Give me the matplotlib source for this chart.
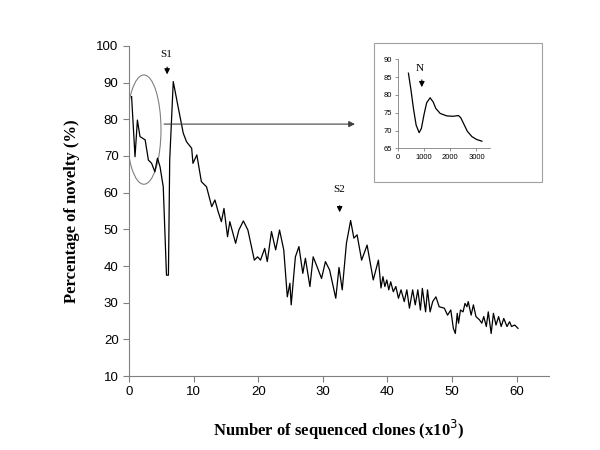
import matplotlib
matplotlib.use("Agg")
import matplotlib.pyplot as plt
from matplotlib.patches import Ellipse, Rectangle

# ---- main series (x in thousands of clones, y in %) ----
clones_k = [0.4, 0.93, 1.3, 1.7, 2.5, 3.0, 3.5, 4.0, 4.4, 4.8, 5.3, 5.8, 6.1, 6.3, 6.85,
            7.6, 8.4, 8.9, 9.7, 9.9, 10.5, 11.2, 12.0, 12.8, 13.3, 13.8, 14.3, 14.7, 15.25,
            15.6, 16.5, 17.0, 17.7, 18.4, 19.4, 19.9, 20.35, 21.0, 21.4, 22.05, 22.7, 23.3,
            23.95, 24.5, 24.9, 25.1, 25.75, 26.3, 26.9, 27.3, 28.0, 28.5, 29.0, 29.8, 30.4,
            31.05, 32.0, 32.5, 33.0, 33.65, 34.3, 34.8, 35.3, 36.0, 36.85, 37.8, 38.6, 39.0,
            39.3, 39.6, 39.9, 40.2, 40.5, 40.9, 41.3, 41.7, 42.1, 42.6, 43.0, 43.4, 43.9,
            44.3, 44.7, 45.1, 45.4, 45.9, 46.2, 46.6, 47.0, 47.5, 48.0, 48.8, 49.3, 49.8,
            50.2, 50.5, 50.8, 51.0, 51.3, 51.7, 52.0, 52.3, 52.5, 52.95, 53.3, 53.7, 54.25,
            54.6, 54.9, 55.3, 55.6, 56.05, 56.4, 56.8, 57.2, 57.6, 58.0, 58.5, 58.9, 59.2,
            59.7, 60.2]
novelty = [86.2, 69.8, 79.8, 75.3, 74.4, 68.9, 68.0, 65.7, 69.4, 67.1, 61.6, 37.5, 37.5, 68.9, 90.3,
           83.4, 76.2, 73.9, 72.1, 68.0, 70.3, 63.0, 61.6, 56.2, 58.0, 54.8, 52.1, 55.7, 48.0,
           52.1, 46.2, 49.8, 52.3, 49.8, 41.6, 42.5, 41.6, 44.8, 41.2, 49.4, 44.4, 49.8,
           44.4, 31.6, 35.3, 29.4, 42.5, 45.3, 38.0, 42.1, 34.4, 42.5, 40.3, 36.6, 41.2,
           38.9, 31.2, 39.6, 33.5, 46.2, 52.4, 47.6, 48.5, 41.6, 45.7, 36.2, 41.6, 34.0,
           37.1, 34.4, 36.2, 33.5, 35.7, 33.0, 34.4, 31.2, 33.5, 30.3, 33.5, 28.5, 33.5,
           29.4, 33.5, 28.0, 33.9, 27.5, 33.5, 27.5, 30.3, 31.6, 28.9, 28.5, 26.6, 28.0,
           23.0, 21.6, 27.1, 24.4, 28.0, 27.5, 29.8, 28.9, 30.3, 26.6, 29.4, 26.2, 25.3,
           24.4, 26.2, 23.5, 27.5, 21.6, 27.1, 23.9, 26.2, 23.5, 25.7, 23.5, 24.8, 23.5,
           23.9, 23.0]
assert len(clones_k) == len(novelty)

# ---- inset series (clones, %) ----
inset_clones = [405, 500, 600, 700, 813, 900, 1000, 1100, 1233, 1350, 1450, 1615, 1870,
                2100, 2313, 2400, 2505, 2650, 2824, 3000, 3206]
inset_novelty = [86.1, 81.5, 76.0, 71.5, 69.4, 70.6, 74.5, 77.8, 79.2, 78.0, 76.2, 74.8, 74.1,
                 74.0, 74.2, 73.6, 72.0, 69.8, 68.3, 67.5, 67.0]
assert len(inset_clones) == len(inset_novelty)

xticks_main = [0, 10, 20, 30, 40, 50, 60]
yticks_main = [10, 20, 30, 40, 50, 60, 70, 80, 90, 100]
xticks_inset = [0, 1000, 2000, 3000]
yticks_inset = [65, 70, 75, 80, 85, 90]

grey = "#808080"
sans = ["Liberation Sans", "DejaVu Sans"]
serif = ["Liberation Serif", "DejaVu Serif"]

fig = plt.figure(figsize=(6, 4.5), dpi=100)
ax = fig.add_axes([0.215, 0.1644, 0.70, 0.7334])
ax.plot(clones_k, novelty, color="black", lw=0.9)
ax.set_xlim(0, 65)
ax.set_ylim(10, 100)
ax.set_xticks(xticks_main)
ax.set_yticks(yticks_main)
for s in ["top", "right"]:
    ax.spines[s].set_visible(False)
for s in ["left", "bottom"]:
    ax.spines[s].set_color(grey)
    ax.spines[s].set_linewidth(0.8)
ax.tick_params(colors=grey, length=4, width=0.8, labelcolor="black", labelsize=9.5)
for lab in ax.get_xticklabels() + ax.get_yticklabels():
    lab.set_family(sans)
ax.set_xlabel("Number of sequenced clones (x10$^3$)", family=serif, fontweight="bold",
              fontsize=12, labelpad=14)
ax.set_ylabel("Percentage of novelty (%)", family=serif, fontweight="bold",
              fontsize=12, labelpad=12)

# ellipse highlighting start
ax.add_patch(Ellipse((2.3, 77.2), 5.3, 29.8, fill=False, edgecolor=grey, lw=0.8))
# horizontal arrow to inset
ax.annotate("", xy=(35.4, 78.7), xytext=(5.0, 78.7),
            arrowprops=dict(arrowstyle="-|>", color="#404040", lw=0.8, mutation_scale=9))
# S1 / S2 markers
ax.text(5.7, 97.8, "S1", family=serif, fontsize=8, ha="center", va="center")
ax.annotate("", xy=(5.9, 91.5), xytext=(5.9, 95.0),
            arrowprops=dict(arrowstyle="-|>", color="black", lw=0.8, mutation_scale=8))
ax.text(32.5, 60.9, "S2", family=serif, fontsize=8, ha="center", va="center")
ax.annotate("", xy=(32.6, 53.9), xytext=(32.6, 57.2),
            arrowprops=dict(arrowstyle="-|>", color="black", lw=0.8, mutation_scale=8))

# inset frame
fig.patches.append(Rectangle((0.623, 0.5956), 0.28, 0.309, transform=fig.transFigure,
                             fill=False, edgecolor="#a0a0a0", lw=0.8))
ins = fig.add_axes([0.663, 0.6704, 0.153, 0.1978])
ins.plot(inset_clones, inset_novelty, color="black", lw=0.9)
ins.set_xlim(0, 3500)
ins.set_ylim(65, 90)
ins.set_xticks(xticks_inset)
ins.set_yticks(yticks_inset)
for s in ["top", "right"]:
    ins.spines[s].set_visible(False)
for s in ["left", "bottom"]:
    ins.spines[s].set_color(grey)
    ins.spines[s].set_linewidth(0.6)
ins.tick_params(colors=grey, length=2, width=0.6, labelcolor="black", labelsize=5.5, pad=2)
for lab in ins.get_xticklabels() + ins.get_yticklabels():
    lab.set_family(sans)
ins.text(850, 87.5, "N", family=serif, fontsize=8, ha="center", va="center")
ins.annotate("", xy=(916, 81.4), xytext=(916, 85.0),
             arrowprops=dict(arrowstyle="-|>", color="black", lw=0.8, mutation_scale=8))

fig.savefig("out.png", dpi=100)
